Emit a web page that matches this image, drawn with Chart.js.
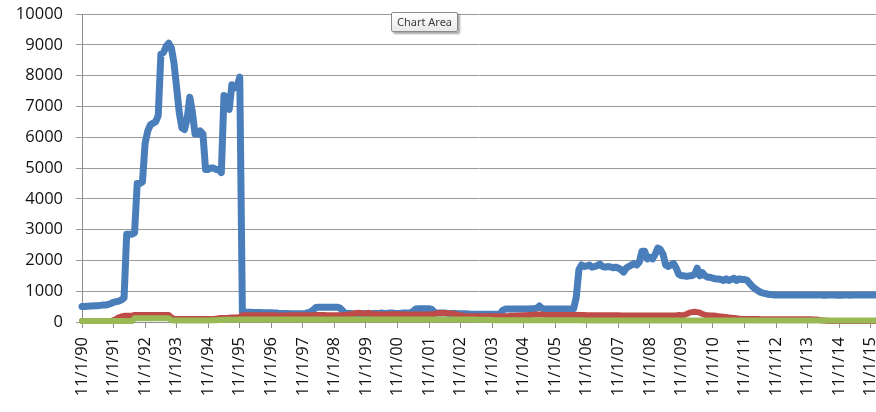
<!DOCTYPE html>
<html>
<head>
<meta charset="utf-8">
<title>Monthly series 1990-2016</title>
<script src="https://cdn.jsdelivr.net/npm/chart.js@4.4.1/dist/chart.umd.min.js"></script>
<style>
    html, body { margin: 0; padding: 0; background: #fff; }
    #wrap { position: relative; width: 876px; height: 412px; overflow: hidden; }
    .tip {
        position: absolute; left: 391px; top: 12px;
        padding: 1px 5px 2px 5px;
        font: 11px "Noto Sans", sans-serif; color: #3c3c3c;
        background: linear-gradient(#ffffff, #e8e8e8);
        border: 1px solid #8a8a8a; border-radius: 2px;
        box-shadow: 2px 2px 2px rgba(0,0,0,0.35);
    }
</style>
</head>
<body>
<div id="wrap">
    <canvas id="chart" width="876" height="412"></canvas>
    <div class="tip">Chart Area</div>
</div>
<script>
// Tick labels shown on the category axis (one per year, every 12th month)
const yearLabels = ['11/1/90', '11/1/91', '11/1/92', '11/1/93', '11/1/94', '11/1/95', '11/1/96',
    '11/1/97', '11/1/98', '11/1/99', '11/1/00', '11/1/01', '11/1/02', '11/1/03', '11/1/04',
    '11/1/05', '11/1/06', '11/1/07', '11/1/08', '11/1/09', '11/1/10', '11/1/11', '11/1/12',
    '11/1/13', '11/1/14', '11/1/15'];

// Monthly values, one row per year starting in November
const blueValues = [
    500, 500, 510, 520, 520, 530, 530, 540, 550, 550, 570, 600,
    640, 660, 680, 720, 780, 2850, 2850, 2850, 2900, 4500, 4500, 4550,
    5800, 6200, 6400, 6450, 6500, 6700, 8700, 8750, 8950, 9050, 8900, 8400,
    7600, 6800, 6300, 6250, 6600, 7300, 6800, 6100, 6100, 6200, 6100, 4950,
    4950, 5000, 5000, 4950, 4950, 4850, 7350, 7300, 6900, 7700, 7600, 7650,
    7950, 330, 320, 320, 320, 310, 310, 310, 310, 300, 300, 300,
    300, 290, 290, 280, 280, 280, 280, 270, 270, 270, 270, 270,
    270, 280, 300, 330, 400, 470, 480, 480, 480, 480, 480, 480,
    480, 480, 460, 380, 290, 280, 280, 270, 270, 280, 280, 280,
    280, 270, 270, 280, 280, 280, 290, 280, 280, 290, 290, 280,
    280, 280, 290, 290, 290, 300, 350, 420, 430, 430, 430, 430,
    430, 410, 320, 290, 290, 290, 290, 280, 280, 280, 280, 270,
    270, 270, 270, 260, 250, 250, 250, 250, 250, 250, 250, 250,
    250, 250, 250, 250, 380, 420, 420, 420, 420, 420, 420, 420,
    420, 420, 420, 430, 430, 450, 520, 440, 420, 420, 420, 420,
    420, 420, 420, 420, 420, 420, 420, 430, 800, 1700, 1850, 1800,
    1820, 1850, 1780, 1800, 1830, 1880, 1800, 1780, 1800, 1790, 1760, 1780,
    1750, 1700, 1620, 1750, 1800, 1850, 1900, 1850, 1950, 2300, 2300, 2050,
    2100, 2050, 2200, 2400, 2350, 2200, 1850, 1800, 1850, 1900, 1750, 1550,
    1500, 1500, 1480, 1500, 1500, 1550, 1750, 1500, 1600, 1500, 1450, 1450,
    1420, 1400, 1400, 1380, 1350, 1400, 1350, 1380, 1420, 1350, 1400, 1380,
    1380, 1350, 1250, 1150, 1080, 1020, 970, 940, 920, 900, 890, 880,
    880, 880, 880, 880, 880, 880, 880, 880, 880, 880, 880, 880,
    880, 880, 880, 880, 880, 880, 870, 870, 880, 880, 880, 870,
    870, 870, 880, 880, 870, 880, 880, 880, 880, 880, 880, 880,
    880, 880, 880
];

const redValues = [
    30, 30, 30, 30, 30, 30, 30, 30, 30, 30, 30, 30,
    60, 100, 150, 180, 200, 200, 200, 200, 230, 230, 230, 230,
    230, 230, 230, 230, 230, 230, 230, 230, 230, 230, 150, 100,
    100, 100, 100, 100, 100, 100, 100, 100, 100, 100, 100, 100,
    100, 100, 100, 110, 120, 130, 130, 130, 140, 150, 150, 150,
    160, 220, 220, 220, 220, 220, 220, 220, 220, 220, 220, 220,
    220, 220, 210, 210, 210, 210, 210, 220, 220, 220, 220, 220,
    220, 220, 220, 220, 220, 230, 230, 230, 230, 220, 220, 220,
    220, 220, 220, 220, 230, 240, 250, 260, 280, 300, 290, 260,
    280, 300, 260, 250, 250, 240, 240, 240, 240, 250, 250, 250,
    250, 250, 240, 240, 240, 240, 240, 240, 240, 240, 240, 240,
    240, 250, 260, 280, 290, 290, 290, 290, 280, 270, 260, 230,
    220, 200, 190, 190, 190, 190, 190, 190, 190, 190, 190, 190,
    190, 190, 190, 190, 190, 190, 190, 200, 200, 200, 210, 210,
    220, 220, 230, 230, 240, 240, 240, 240, 230, 230, 230, 230,
    230, 230, 230, 230, 230, 230, 230, 230, 230, 230, 230, 230,
    220, 220, 220, 220, 220, 220, 220, 220, 220, 220, 220, 220,
    220, 210, 210, 210, 210, 210, 210, 210, 210, 210, 210, 210,
    210, 210, 210, 210, 210, 210, 210, 210, 210, 210, 210, 230,
    220, 230, 260, 300, 320, 330, 320, 300, 260, 230, 220, 210,
    210, 200, 190, 180, 170, 160, 150, 140, 130, 120, 110, 100,
    100, 100, 100, 100, 100, 100, 90, 90, 90, 90, 90, 90,
    90, 90, 90, 90, 90, 90, 90, 90, 90, 90, 90, 90,
    90, 90, 80, 80, 70, 60, 50, 40, 30, 30, 30, 30,
    30, 30, 30, 30, 30, 30, 30, 30, 30, 30, 30, 30,
    30, 30, 30
];

const greenValues = [
    30, 30, 30, 30, 30, 30, 30, 30, 30, 30, 30, 30,
    30, 30, 30, 30, 30, 30, 30, 30, 120, 120, 120, 120,
    120, 120, 120, 120, 120, 120, 120, 120, 120, 120, 60, 50,
    50, 50, 50, 50, 50, 50, 50, 50, 50, 50, 50, 50,
    50, 55, 60, 60, 65, 65, 70, 70, 70, 75, 75, 75,
    80, 80, 80, 80, 80, 80, 80, 80, 80, 80, 80, 80,
    80, 80, 80, 80, 80, 80, 80, 80, 80, 80, 80, 80,
    80, 80, 80, 80, 80, 80, 80, 80, 80, 80, 80, 80,
    80, 80, 80, 80, 80, 80, 80, 80, 80, 80, 80, 80,
    80, 80, 80, 80, 80, 80, 80, 80, 80, 80, 80, 80,
    80, 80, 80, 80, 80, 80, 80, 80, 80, 80, 80, 80,
    80, 80, 80, 80, 80, 80, 80, 80, 80, 80, 80, 80,
    80, 80, 80, 80, 80, 80, 70, 70, 70, 70, 70, 70,
    60, 60, 60, 60, 60, 60, 60, 60, 60, 60, 60, 60,
    60, 60, 60, 60, 60, 60, 60, 60, 60, 60, 60, 60,
    60, 60, 60, 60, 60, 60, 60, 60, 60, 60, 60, 50,
    45, 45, 45, 45, 45, 45, 45, 45, 45, 45, 45, 45,
    45, 45, 45, 45, 45, 45, 45, 45, 45, 45, 45, 45,
    45, 45, 45, 45, 45, 45, 45, 45, 45, 45, 45, 45,
    45, 45, 45, 45, 45, 45, 45, 45, 45, 45, 45, 45,
    45, 45, 45, 45, 45, 45, 45, 45, 45, 45, 45, 45,
    45, 45, 45, 45, 45, 45, 45, 45, 45, 45, 45, 45,
    45, 45, 45, 45, 45, 45, 45, 45, 45, 45, 45, 45,
    45, 45, 45, 45, 45, 45, 45, 45, 45, 45, 45, 45,
    45, 45, 45, 45, 45, 45, 45, 45, 45, 45, 45, 45,
    45, 45, 45
];

// Monthly category labels, first of each month from 11/1/90
const months = [];
for (let i = 0; i < blueValues.length; i++) {
    const m = (10 + i) % 12 + 1;
    const y = (1990 + Math.floor((10 + i) / 12)) % 100;
    months.push(m + '/1/' + String(y).padStart(2, '0'));
}

const tickFont = { family: '"Open Sans", sans-serif', size: 16.5 };

function lineSet(label, values, color, width, order) {
    return {
        label: label,
        data: values,
        borderColor: color,
        borderWidth: width,
        borderJoinStyle: 'round',
        borderCapStyle: 'round',
        pointRadius: 0,
        tension: 0,
        fill: false,
        clip: 6,
        order: order
    };
}

const ctx = document.getElementById('chart').getContext('2d');
new Chart(ctx, {
    type: 'line',
    data: {
        labels: months,
        datasets: [
            lineSet('Series1', blueValues, '#4a7ebb', 7, 3),
            lineSet('Series2', redValues, '#be4b48', 6, 2),
            lineSet('Series3', greenValues, '#98b954', 6, 1)
        ]
    },
    options: {
        responsive: false,
        animation: false,
        layout: { padding: { top: 14, right: 0, bottom: 0, left: 0 } },
        plugins: {
            legend: { display: false },
            tooltip: { enabled: false }
        },
        scales: {
            x: {
                grid: {
                    drawOnChartArea: false,
                    tickLength: 6,
                    color: c => (c.index % 12 === 0 ? '#8c8c8c' : 'rgba(0,0,0,0)')
                },
                border: { color: '#8c8c8c' },
                ticks: {
                    autoSkip: false,
                    maxRotation: 90,
                    minRotation: 90,
                    padding: 9,
                    color: '#111',
                    font: tickFont,
                    callback: (value, index) => (index % 12 === 0 ? yearLabels[index / 12] : '')
                },
                afterFit: scale => {
                    scale.height = 90;
                    scale.paddingRight = 0;
                    scale.paddingLeft = 0;
                }
            },
            y: {
                min: 0,
                max: 10000,
                grid: { color: '#9a9a9a', tickLength: 6 },
                border: { color: '#8c8c8c' },
                ticks: {
                    stepSize: 1000,
                    padding: 13,
                    color: '#111',
                    font: tickFont,
                    callback: value => String(value)
                },
                afterFit: scale => {
                    scale.width = 82;
                    scale.paddingTop = 0;
                    scale.paddingBottom = 0;
                }
            }
        }
    }
});
</script>
</body>
</html>
